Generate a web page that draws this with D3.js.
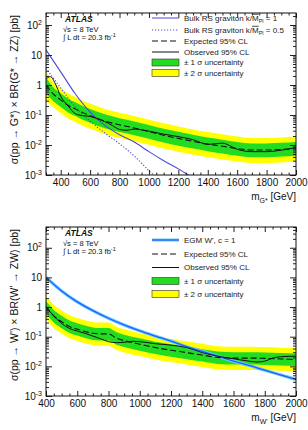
<!DOCTYPE html>
<html><head><meta charset="utf-8">
<script src="https://cdn.jsdelivr.net/npm/d3@7"></script>
<style>
body{margin:0;background:#fff;}
svg{display:block;font-family:"Liberation Sans",Arial,Helvetica,sans-serif;}
</style></head>
<body><svg id="c" width="308" height="430"></svg>
<script>
// ---------- Data: top panel (G* -> ZZ) ----------
const massTop = [300,350,400,450,500,550,600,700,800,900,1000,1100,1200,1300,1400,1500,1600,1700,1800,1900,2000];
const expTop  = [1.0,0.5,0.32,0.21,0.16,0.12,0.095,0.063,0.047,0.037,0.028,0.021,0.0166,0.0132,0.0107,0.0091,0.0076,0.0068,0.0068,0.0071,0.0076];
const g1hiTop = [1.8,0.83,0.53,0.35,0.266,0.2,0.158,0.105,0.078,0.061,0.0465,0.035,0.0276,0.0219,0.0178,0.0151,0.0126,0.0113,0.0113,0.0118,0.0126];
const g1loTop = [0.52,0.288,0.184,0.121,0.092,0.069,0.055,0.036,0.027,0.0213,0.0161,0.0121,0.0095,0.0076,0.0062,0.0052,0.0044,0.0039,0.0039,0.0041,0.0044];
const g2hiTop = [2.8,1.26,0.8,0.53,0.4,0.3,0.24,0.158,0.118,0.093,0.07,0.053,0.0417,0.0331,0.0269,0.0228,0.0191,0.0171,0.0171,0.0178,0.0191];
const g2loTop = [0.3,0.182,0.116,0.076,0.058,0.0436,0.0345,0.0229,0.0171,0.0134,0.0102,0.0076,0.006,0.0048,0.0039,0.0033,0.0028,0.0025,0.0025,0.0026,0.0028];
const obsMassTop = [300,330,360,400,450,500,550,600,650,700,750,800,850,900,950,1000,1100,1200,1300,1400,1450,1500,1550,1600,1700,1800,1900,2000];
const obsTop = [1.6,1.9,1.2,0.42,0.2,0.11,0.095,0.09,0.075,0.06,0.045,0.033,0.031,0.034,0.032,0.029,0.023,0.019,0.015,0.0105,0.011,0.0115,0.0095,0.0072,0.006,0.006,0.0067,0.0083];
const rsMass1 = [300,400,500,600,700,800,900,1000,1100,1200,1300];
const rsK1    = [14.8,2.75,0.5,0.125,0.045,0.022,0.0126,0.006,0.003,0.0016,0.0008];
const rsMass05 = [300,400,500,600,700,800,900,1000,1100];
const rsK05    = [3.6,0.8,0.18,0.062,0.025,0.011,0.0043,0.0014,0.0005];

// ---------- Data: bottom panel (W' -> ZW) ----------
const massBot = [400,450,500,550,600,650,700,750,800,850,900,1000,1100,1200,1300,1400,1500,1600,1700,1800,1900,2000];
const expBot  = [1.0,0.5,0.32,0.22,0.18,0.15,0.13,0.125,0.125,0.09,0.074,0.056,0.043,0.035,0.029,0.024,0.02,0.019,0.019,0.0186,0.0178,0.017];
const g1hiBot = [1.585,0.79,0.507,0.349,0.285,0.238,0.206,0.198,0.198,0.143,0.117,0.089,0.068,0.0555,0.046,0.038,0.0317,0.0301,0.0301,0.0295,0.0282,0.027];
const g1loBot = [0.603,0.3,0.193,0.133,0.109,0.09,0.078,0.075,0.075,0.054,0.0446,0.0338,0.0259,0.0211,0.0175,0.0145,0.0121,0.0115,0.0115,0.0112,0.0107,0.0103];
const g2hiBot = [2.4,1.2,0.77,0.53,0.43,0.36,0.31,0.3,0.3,0.216,0.178,0.134,0.103,0.084,0.07,0.058,0.048,0.046,0.046,0.0446,0.0427,0.041];
const g2loBot = [0.398,0.199,0.127,0.088,0.072,0.06,0.052,0.05,0.05,0.036,0.0295,0.0223,0.0171,0.0139,0.0115,0.0096,0.008,0.0076,0.0076,0.0074,0.0071,0.0068];
const obsMassBot = [400,425,450,475,500,550,600,650,700,750,800,850,900,950,1000,1100,1200,1300,1400,1500,1600,1700,1750,1800,1850,1900,2000];
const obsBot = [1.05,0.7,0.5,0.37,0.28,0.19,0.155,0.13,0.105,0.085,0.068,0.063,0.065,0.07,0.068,0.058,0.052,0.043,0.029,0.022,0.018,0.015,0.014,0.015,0.019,0.021,0.022];
const egmMass = [400,500,600,700,800,900,1000,1100,1200,1300,1400,1500,1600,1700,1800,1900,2000];
const egmW     = [10,3.5,1.5,0.76,0.42,0.25,0.158,0.105,0.071,0.046,0.032,0.022,0.015,0.0107,0.0074,0.0052,0.0036];

// ---------- Tick labels ----------
const xTicks = [400,600,800,1000,1200,1400,1600,1800,2000];
const yExps = [-3,-2,-1,0,1,2];

const svg = d3.select("#c");
const C = {green:"#21dc21", yellow:"#ffff00", rsBlue:"#4b4bd6", egmBlue:"#1f5fff", egmHalo:"#66ccff"};

function yLabelText(sel, e){
  if(e===0){ sel.text("1"); return; }
  if(e===1){ sel.text("10"); return; }
  sel.append("tspan").text("10");
  sel.append("tspan").attr("dy",-4).attr("font-size",7).text(String(e));
}

function panel(o){
  const x = d3.scaleLinear().domain(o.xdom).range([46,296]);
  const y = d3.scaleLog().domain(o.ydom).range([o.y1,o.y0]);
  const g = svg.append("g");
  const clipId = "clip"+o.id;
  g.append("clipPath").attr("id",clipId).append("rect")
    .attr("x",46).attr("y",o.y0).attr("width",250).attr("height",o.y1-o.y0);
  const pl = g.append("g").attr("clip-path",`url(#${clipId})`);

  const area = (xs, lo, hi) => d3.area().curve(d3.curveMonotoneX)
      .x((d,i)=>x(xs[i])).y0((d,i)=>y(lo[i])).y1((d,i)=>y(hi[i]))(xs);
  const line = (xs, ys) => d3.line().curve(d3.curveMonotoneX)
      .x((d,i)=>x(xs[i])).y((d,i)=>y(ys[i]))(xs);

  pl.append("path").attr("d",area(o.mass,o.g2lo,o.g2hi)).attr("fill",C.yellow);
  pl.append("path").attr("d",area(o.mass,o.g1lo,o.g1hi)).attr("fill",C.green);
  o.drawTheory(pl, line);
  pl.append("path").attr("d",line(o.mass,o.exp)).attr("fill","none").attr("stroke","#111")
    .attr("stroke-width",1.1).attr("stroke-dasharray","6,3");
  pl.append("path").attr("d",line(o.obsMass,o.obs)).attr("fill","none").attr("stroke","#111").attr("stroke-width",1);

  const xMinor = d3.range(o.xdom[0],o.xdom[1]+1,50).filter(v=>v%200!==0);
  const yMinor = [];
  for(let e=-3;e<=2;e++) for(let m=2;m<=9;m++){ const v=m*Math.pow(10,e); if(v<o.ydom[1]) yMinor.push(v); }
  const rm = s => s.select(".domain").remove();
  const ax = (a, tx, ty) => g.append("g").attr("transform",`translate(${tx},${ty})`).call(a).call(rm);

  ax(d3.axisBottom(x).tickValues(xTicks).tickSizeInner(-5).tickSizeOuter(0).tickPadding(4).tickFormat(d3.format("d")),0,o.y1)
    .selectAll("text").attr("font-size",10).attr("fill","#111").attr("font-family","Liberation Sans, Arial, sans-serif");
  ax(d3.axisBottom(x).tickValues(xMinor).tickSizeInner(-2.5).tickSizeOuter(0).tickFormat(""),0,o.y1);
  ax(d3.axisTop(x).tickValues(xTicks).tickSizeInner(-5).tickSizeOuter(0).tickFormat(""),0,o.y0);
  ax(d3.axisTop(x).tickValues(xMinor).tickSizeInner(-2.5).tickSizeOuter(0).tickFormat(""),0,o.y0);
  const yMaj = yExps.map(e=>Math.pow(10,e));
  ax(d3.axisLeft(y).tickValues(yMaj).tickSizeInner(-6).tickSizeOuter(0).tickFormat(""),46,0);
  ax(d3.axisLeft(y).tickValues(yMinor).tickSizeInner(-3).tickSizeOuter(0).tickFormat(""),46,0);
  ax(d3.axisRight(y).tickValues(yMaj).tickSizeInner(-6).tickSizeOuter(0).tickFormat(""),296,0);
  ax(d3.axisRight(y).tickValues(yMinor).tickSizeInner(-3).tickSizeOuter(0).tickFormat(""),296,0);
  g.selectAll(".tick line").attr("stroke","#222");

  yExps.forEach(e=>{
    const t = g.append("text").attr("x",42).attr("y",y(Math.pow(10,e))+3.5)
      .attr("text-anchor","end").attr("font-size",10).attr("fill","#111");
    yLabelText(t,e);
  });

  g.append("rect").attr("x",46).attr("y",o.y0).attr("width",250).attr("height",o.y1-o.y0)
    .attr("fill","none").attr("stroke","#111").attr("stroke-width",1);

  const yt = g.append("text").attr("transform",`translate(18,${o.y0+2}) rotate(-90)`)
    .attr("text-anchor","end").attr("font-size",10.5).attr("fill","#111");
  o.yTitle(yt);
  const xt = g.append("text").attr("x",296).attr("y",o.y1+25).attr("text-anchor","end")
    .attr("font-size",10).attr("fill","#111");
  o.xTitle(xt);

  g.append("text").attr("x",65).attr("y",o.y0+9).attr("font-size",8.5).attr("font-weight","bold")
    .attr("font-style","italic").attr("fill","#111").text("ATLAS");
  g.append("text").attr("x",63).attr("y",o.y0+19).attr("font-size",7.5).attr("fill","#111").text("√s = 8 TeV");
  const lum = g.append("text").attr("x",63).attr("y",o.y0+27).attr("font-size",7.5).attr("fill","#111");
  lum.append("tspan").text("∫ L dt = 20.3 fb");
  lum.append("tspan").attr("dy",-3).attr("font-size",5.5).text("-1");

  const lg = g.append("g");
  o.legend.forEach((it,i)=>{
    const cy = o.legY[i];
    if(it.type==="box"){
      lg.append("rect").attr("x",152).attr("y",cy-3.5).attr("width",27).attr("height",7)
        .attr("fill",it.fill).attr("stroke","#333").attr("stroke-width",0.6);
    } else {
      if(it.halo) lg.append("line").attr("x1",152).attr("x2",179).attr("y1",cy).attr("y2",cy)
        .attr("stroke",it.halo).attr("stroke-width",3);
      lg.append("line").attr("x1",152).attr("x2",179).attr("y1",cy).attr("y2",cy)
        .attr("stroke",it.stroke).attr("stroke-width",it.w||1).attr("stroke-dasharray",it.dash||null);
    }
    const t = lg.append("text").attr("x",184).attr("y",cy+2.8).attr("font-size",8).attr("fill","#222");
    it.label(t);
  });
}

const plain = s => t => t.text(s);
function rsLabel(k){
  return t=>{
    t.append("tspan").text("Bulk RS graviton k/");
    t.append("tspan").attr("text-decoration","overline").text("M");
    t.append("tspan").attr("dy",2).attr("font-size",5.5).text("Pl");
    t.append("tspan").attr("dy",-2).text(" = "+k);
  };
}
const sig1 = "± 1 σ uncertainty", sig2 = "± 2 σ uncertainty";

panel({
  id:"top", xdom:[300,2000], ydom:[1e-3,Math.pow(10,2.4)], y0:13, y1:175,
  mass:massTop, exp:expTop, g1lo:g1loTop, g1hi:g1hiTop, g2lo:g2loTop, g2hi:g2hiTop,
  obsMass:obsMassTop, obs:obsTop,
  drawTheory:(pl,line)=>{
    pl.append("path").attr("d",line(rsMass1,rsK1)).attr("fill","none").attr("stroke",C.rsBlue).attr("stroke-width",1.1);
    pl.append("path").attr("d",line(rsMass05,rsK05)).attr("fill","none").attr("stroke",C.rsBlue)
      .attr("stroke-width",1.1).attr("stroke-dasharray","1.2,1.8");
  },
  yTitle:t=>{ t.text("σ(pp → G*) × BR(G* → ZZ)  [pb]"); },
  xTitle:t=>{ t.append("tspan").text("m"); t.append("tspan").attr("dy",2.5).attr("font-size",7).text("G*");
              t.append("tspan").attr("dy",-2.5).text(" [GeV]"); },
  legY:[18,30,41,52,62.5,73],
  legend:[
    {type:"line",stroke:C.rsBlue,label:rsLabel("1")},
    {type:"line",stroke:C.rsBlue,dash:"1.2,1.8",label:rsLabel("0.5")},
    {type:"line",stroke:"#111",dash:"6,3",label:plain("Expected 95% CL")},
    {type:"line",stroke:"#111",label:plain("Observed 95% CL")},
    {type:"box",fill:C.green,label:plain(sig1)},
    {type:"box",fill:C.yellow,label:plain(sig2)}
  ]
});

panel({
  id:"bot", xdom:[400,2000], ydom:[1e-3,Math.pow(10,2.7)], y0:227, y1:396,
  mass:massBot, exp:expBot, g1lo:g1loBot, g1hi:g1hiBot, g2lo:g2loBot, g2hi:g2hiBot,
  obsMass:obsMassBot, obs:obsBot,
  drawTheory:(pl,line)=>{
    pl.append("path").attr("d",line(egmMass,egmW)).attr("fill","none").attr("stroke",C.egmHalo).attr("stroke-width",3.2);
    pl.append("path").attr("d",line(egmMass,egmW)).attr("fill","none").attr("stroke",C.egmBlue).attr("stroke-width",1.3);
  },
  yTitle:t=>{ t.text("σ(pp → W') × BR(W' → ZW)  [pb]"); },
  xTitle:t=>{ t.append("tspan").text("m"); t.append("tspan").attr("dy",2.5).attr("font-size",7).text("W'");
              t.append("tspan").attr("dy",-2.5).text(" [GeV]"); },
  legY:[240,254,267.5,281,294],
  legend:[
    {type:"line",stroke:C.egmBlue,halo:C.egmHalo,w:1.3,label:plain("EGM W', c = 1")},
    {type:"line",stroke:"#111",dash:"6,3",label:plain("Expected 95% CL")},
    {type:"line",stroke:"#111",label:plain("Observed 95% CL")},
    {type:"box",fill:C.green,label:plain(sig1)},
    {type:"box",fill:C.yellow,label:plain(sig2)}
  ]
});
</script></body></html>
